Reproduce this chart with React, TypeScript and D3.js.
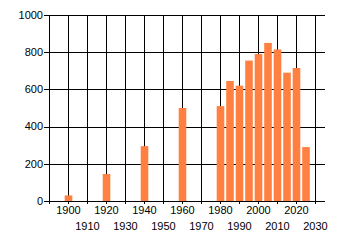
import React, { useEffect } from 'react';
import * as d3 from 'd3';

// Years of each bar and their values
const YEARS = [1900, 1920, 1940, 1960, 1980, 1985, 1990, 1995, 2000, 2005, 2010, 2015, 2020, 2025];
const VALUES = [30, 145, 295, 500, 510, 645, 620, 755, 790, 850, 815, 690, 715, 290];
const Y_TICKS = [0, 200, 400, 600, 800, 1000];
const X_TICKS = [1890, 1900, 1910, 1920, 1930, 1940, 1950, 1960, 1970, 1980, 1990, 2000, 2010, 2020, 2030];

const W = 340, H = 245;
const padL = 49, plotRight = 325, padT = 15, plotBottom = 201;

export default function App() {
  useEffect(() => {
    document.body.style.margin = '0';
  }, []);

  const x = d3.scaleLinear().domain([1890, 2030]).range([padL, 315]);
  const y = d3.scaleLinear().domain([0, 1000]).range([plotBottom, padT]);
  const px = (v: number) => Math.round(v) + 0.5;
  const barW = 7.6;
  const font = '"Liberation Sans", Arial, sans-serif';

  return (
    <svg width={W} height={H} style={{ display: 'block' }}>
      <rect width={W} height={H} fill="#fff" />
      {/* horizontal grid + y ticks */}
      {Y_TICKS.map((t) => (
        <g key={'y' + t}>
          <line x1={44} x2={plotRight} y1={px(y(t))} y2={px(y(t))} stroke="#000" strokeWidth={1} />
          <text x={43} y={y(t)} dy="0.35em" textAnchor="end" fontSize={11} fontFamily={font} fill="#000">{t}</text>
        </g>
      ))}
      {/* vertical grid + x ticks */}
      {X_TICKS.map((t, i) => (
        <g key={'x' + t}>
          <line x1={px(x(t))} x2={px(x(t))} y1={padT} y2={plotBottom + 3} stroke="#000" strokeWidth={1} />
          {t !== 1890 && (
            <text x={x(t) + 0.5} y={i % 2 === 1 ? 210 : 226} dy="0.35em" textAnchor="middle" fontSize={11} fontFamily={font} fill="#000">{t}</text>
          )}
        </g>
      ))}
      {/* bars */}
      {YEARS.map((yr, i) => (
        <rect key={yr} x={x(yr) - barW / 2 + 0.5} y={y(VALUES[i])} width={barW} height={y(0) - y(VALUES[i])} fill="#ff8040" />
      ))}
    </svg>
  );
}
